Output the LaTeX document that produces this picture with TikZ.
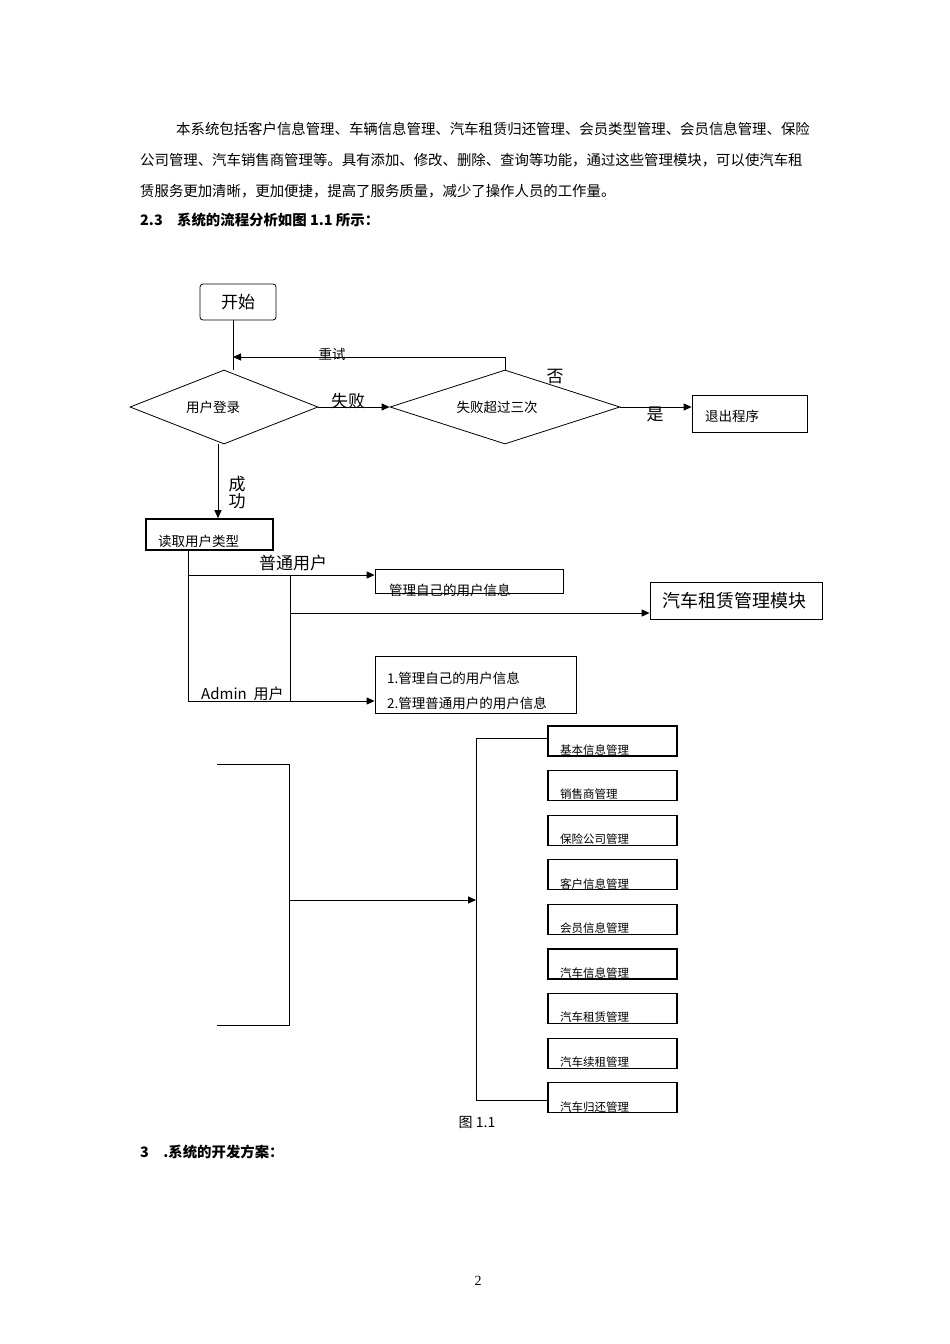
\documentclass[tikz,border=0pt]{standalone}
\usepackage{fontspec}
\setmainfont{Liberation Serif}
\newfontfamily\cjk{Noto Sans CJK SC}
\usepackage{tikz}
\usetikzlibrary{arrows.meta,positioning,calc,shapes.geometric}
\tikzset{
  box/.style={draw,line width=0.8pt,inner sep=2pt},
  dia/.style={draw,diamond,aspect=2.5,inner sep=0pt,line width=0.8pt},
  lbl/.style={inner sep=0pt,font=\cjk\fontsize{15}{15}\selectfont},
  small/.style={lbl,font=\cjk\fontsize{13.5}{13.5}\selectfont},
  body/.style={inner sep=0pt,anchor=west,font=\cjk\fontsize{14.4}{14.4}\selectfont},
  arr/.style={-{Triangle[length=8pt,width=7pt]},line width=1pt},
  ln/.style={line width=1pt},
}
\begin{document}
\begin{tikzpicture}[x=1pt,y=-1pt]
  \useasboundingbox (0,0) rectangle (950,1344);
  % text of the page
  \node[body] (p1) at (176,129) {本系统包括客户信息管理、车辆信息管理、汽车租赁归还管理、会员类型管理、会员信息管理、保险};
  \node[body] (p2) at (140,160) {公司管理、汽车销售商管理等。具有添加、修改、删除、查询等功能，通过这些管理模块，可以使汽车租};
  \node[body] (p3) at (140,191) {赁服务更加清晰，更加便捷，提高了服务质量，减少了操作人员的工作量。};
  \node[body,font=\cjk\bfseries\fontsize{14.4}{14.4}\selectfont] (h23) at (140,220) {2.3\quad 系统的流程分析如图 1.1 所示：};
  % flow
  \node[box,rounded corners=3pt,minimum width=76pt,minimum height=36pt,lbl,font=\cjk\fontsize{17}{17}\selectfont] (start) at (238,302) {开始};
  \node[dia,minimum width=188pt,minimum height=74pt] (login) at (224,407) {};
  \node[small] at (213,407) {用户登录};
  \node[dia,minimum width=230pt,minimum height=74pt] (fail) at (505,407) {};
  \node[small] at (497,407) {失败超过三次};
  \node[box,minimum width=115pt,minimum height=37pt] (quit) at (749.5,413.5) {};
  \node[small,anchor=west] at (705,416) {退出程序};
  \coordinate (rt) at (505,357);
  \coordinate (rl) at (233,357);
  \draw[ln] (start.south -| 233,0) -- (233,370);
  \draw[ln] (fail.north) -- (rt);
  \draw[arr] (rt) -- (rl);
  \node[small] at (332,354) {重试};
  \draw[arr] (login.east) -- (fail.west);
  \node[lbl,font=\cjk\fontsize{17}{17}\selectfont] at (348,401) {失败};
  \draw[arr] (fail.east) -- (quit.west |- fail.east);
  \node[lbl,font=\cjk\fontsize{17}{17}\selectfont] at (555,377) {否};
  \node[lbl,font=\cjk\fontsize{17}{17}\selectfont] at (655,414) {是};
  \node[box,line width=1.6pt,minimum width=127pt,minimum height=31pt] (read) at (209.5,534.5) {};
  \node[small,anchor=west] at (158,541) {读取用户类型};
  \draw[arr] (login.south -| 218,0) -- (read.north -| 218,0);
  \node[lbl,font=\cjk\fontsize{17}{17}\selectfont,align=center] at (237,493) {成\\功};
  % user branches
  \node[box,minimum width=188pt,minimum height=24pt] (own) at (469,581) {};
  \node[small,anchor=west] at (389,590) {管理自己的用户信息};
  \node[box,minimum width=172pt,minimum height=37pt] (rent) at (736,600.5) {};
  \node[lbl,font=\cjk\fontsize{18}{18}\selectfont,anchor=west] at (662,601) {汽车租赁管理模块};
  \node[box,minimum width=201pt,minimum height=57pt] (adm) at (475.5,684.5) {};
  \node[small,anchor=west] at (387,678) {1.管理自己的用户信息};
  \node[small,anchor=west] at (387,703) {2.管理普通用户的用户信息};
  \coordinate (b0) at (188,550);
  \coordinate (b1) at (188,701);
  \coordinate (c0) at (290,575);
  \coordinate (c1) at (290,701);
  \draw[ln] (b0) -- (b1);
  \draw[ln] (c0) -- (c1);
  \draw[arr] (188,575) -- (own.west |- 0,575);
  \draw[arr] (290,613) -- (rent.west |- 0,613);
  \draw[arr] (b1) -- (adm.west |- 0,701);
  \node[lbl,font=\cjk\fontsize{17}{17}\selectfont] at (293,563) {普通用户};
  \node[lbl,anchor=west] at (201,694) {Admin\ \ 用户};
  % modules
  \coordinate (k0) at (217,764);
  \coordinate (k1) at (289,764);
  \coordinate (k2) at (289,1025);
  \coordinate (k3) at (217,1025);
  \draw[ln] (k0) -- (k1) -- (k2) -- (k3);
  \coordinate (m) at (476,900);
  \draw[arr] (289,900) -- (m);
  \foreach \t [count=\i from 0] in {基本信息管理,销售商管理,保险公司管理,客户信息管理,会员信息管理,汽车信息管理,汽车租赁管理,汽车续租管理,汽车归还管理}{
    \node[box,line width=1.2pt,minimum width=129pt,minimum height=30pt] (mod\i) at (612.5,{741+44.6*\i}) {};
    \node[lbl,font=\cjk\fontsize{11.5}{11.5}\selectfont,anchor=west] at (560,{750+44.6*\i}) {\t};
  }
  \draw[ln] (mod0.west |- 0,738) -- (476,738) -- (476,1100) -- (mod8.west |- 0,1100);
  \node[lbl,font=\cjk\fontsize{14}{14}\selectfont] (cap) at (477,1122) {图 1.1};
  \node[body,font=\cjk\bfseries\fontsize{14.4}{14.4}\selectfont] (h3) at (140,1152) {3\quad .系统的开发方案：};
  \node[lbl,font=\fontsize{14}{14}\selectfont] (pg) at (478,1281) {2};
\end{tikzpicture}
\end{document}
